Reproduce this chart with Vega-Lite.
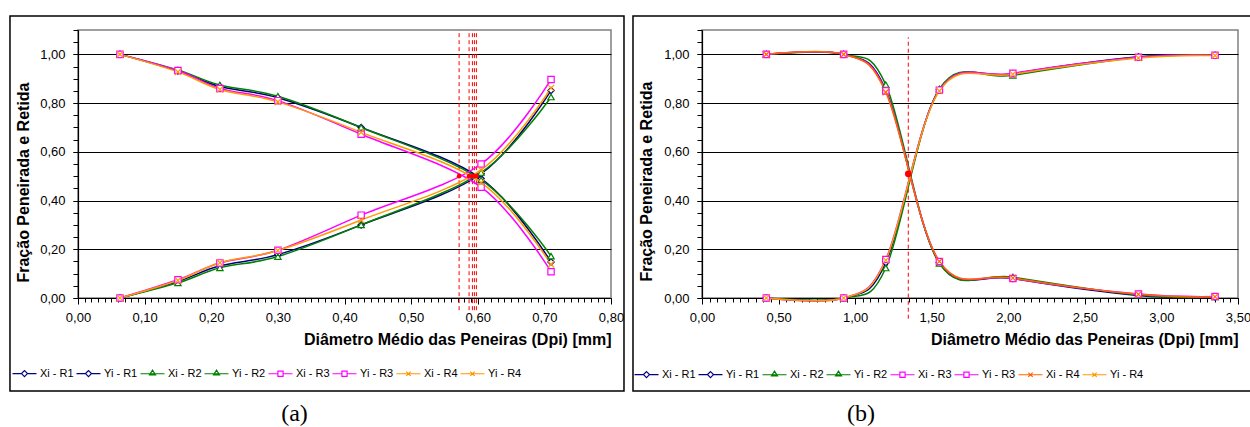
{
  "$schema": "https://vega.github.io/schema/vega-lite/v6.json",
  "background": "white",
  "padding": {"left": 8, "top": 14, "right": 0, "bottom": 0},
  "spacing": 5,
  "resolve": {"scale": {"color": "independent", "shape": "independent"}, "legend": {"color": "independent", "shape": "independent"}},
  "config": {
    "font": "Liberation Sans",
    "view": {"stroke": "#808080", "strokeWidth": 1.5},
    "axis": {"labelFont": "Liberation Sans", "labelFontSize": 13, "labelColor": "#000", "titleFont": "Liberation Sans", "titleFontSize": 16, "titleFontWeight": "bold", "titleColor": "#000", "domainColor": "#000", "tickColor": "#000", "gridColor": "#000", "labelFlush": false, "labelOverlap": false},
    "legend": {"labelFont": "Liberation Sans", "labelFontSize": 11, "labelColor": "#000"},
    "title": {"font": "Liberation Serif", "fontSize": 24, "fontWeight": "normal", "color": "#000"}
  },
  "datasets": {
    "a": [
      {"d": 0.063, "f": 1.0, "s": "Xi - R1", "r": "R1"}, {"d": 0.15, "f": 0.932, "s": "Xi - R1", "r": "R1"}, {"d": 0.213, "f": 0.868, "s": "Xi - R1", "r": "R1"}, {"d": 0.3, "f": 0.822, "s": "Xi - R1", "r": "R1"}, {"d": 0.425, "f": 0.7, "s": "Xi - R1", "r": "R1"}, {"d": 0.605, "f": 0.49, "s": "Xi - R1", "r": "R1"}, {"d": 0.71, "f": 0.148, "s": "Xi - R1", "r": "R1"},
      {"d": 0.063, "f": 0.0, "s": "Yi - R1", "r": "R1"}, {"d": 0.15, "f": 0.068, "s": "Yi - R1", "r": "R1"}, {"d": 0.213, "f": 0.132, "s": "Yi - R1", "r": "R1"}, {"d": 0.3, "f": 0.178, "s": "Yi - R1", "r": "R1"}, {"d": 0.425, "f": 0.3, "s": "Yi - R1", "r": "R1"}, {"d": 0.605, "f": 0.51, "s": "Yi - R1", "r": "R1"}, {"d": 0.71, "f": 0.852, "s": "Yi - R1", "r": "R1"},
      {"d": 0.063, "f": 1.0, "s": "Xi - R2", "r": "R2"}, {"d": 0.15, "f": 0.936, "s": "Xi - R2", "r": "R2"}, {"d": 0.213, "f": 0.874, "s": "Xi - R2", "r": "R2"}, {"d": 0.3, "f": 0.828, "s": "Xi - R2", "r": "R2"}, {"d": 0.425, "f": 0.7, "s": "Xi - R2", "r": "R2"}, {"d": 0.605, "f": 0.485, "s": "Xi - R2", "r": "R2"}, {"d": 0.71, "f": 0.172, "s": "Xi - R2", "r": "R2"},
      {"d": 0.063, "f": 0.0, "s": "Yi - R2", "r": "R2"}, {"d": 0.15, "f": 0.062, "s": "Yi - R2", "r": "R2"}, {"d": 0.213, "f": 0.124, "s": "Yi - R2", "r": "R2"}, {"d": 0.3, "f": 0.17, "s": "Yi - R2", "r": "R2"}, {"d": 0.425, "f": 0.3, "s": "Yi - R2", "r": "R2"}, {"d": 0.605, "f": 0.515, "s": "Yi - R2", "r": "R2"}, {"d": 0.71, "f": 0.825, "s": "Yi - R2", "r": "R2"},
      {"d": 0.063, "f": 1.0, "s": "Xi - R3", "r": "R3"}, {"d": 0.15, "f": 0.934, "s": "Xi - R3", "r": "R3"}, {"d": 0.213, "f": 0.86, "s": "Xi - R3", "r": "R3"}, {"d": 0.3, "f": 0.81, "s": "Xi - R3", "r": "R3"}, {"d": 0.425, "f": 0.672, "s": "Xi - R3", "r": "R3"}, {"d": 0.605, "f": 0.455, "s": "Xi - R3", "r": "R3"}, {"d": 0.71, "f": 0.108, "s": "Xi - R3", "r": "R3"},
      {"d": 0.063, "f": 0.0, "s": "Yi - R3", "r": "R3"}, {"d": 0.15, "f": 0.075, "s": "Yi - R3", "r": "R3"}, {"d": 0.213, "f": 0.144, "s": "Yi - R3", "r": "R3"}, {"d": 0.3, "f": 0.196, "s": "Yi - R3", "r": "R3"}, {"d": 0.425, "f": 0.34, "s": "Yi - R3", "r": "R3"}, {"d": 0.605, "f": 0.55, "s": "Yi - R3", "r": "R3"}, {"d": 0.71, "f": 0.897, "s": "Yi - R3", "r": "R3"},
      {"d": 0.063, "f": 1.0, "s": "Xi - R4", "r": "R4"}, {"d": 0.15, "f": 0.928, "s": "Xi - R4", "r": "R4"}, {"d": 0.213, "f": 0.856, "s": "Xi - R4", "r": "R4"}, {"d": 0.3, "f": 0.805, "s": "Xi - R4", "r": "R4"}, {"d": 0.425, "f": 0.68, "s": "Xi - R4", "r": "R4"}, {"d": 0.605, "f": 0.474, "s": "Xi - R4", "r": "R4"}, {"d": 0.71, "f": 0.138, "s": "Xi - R4", "r": "R4"},
      {"d": 0.063, "f": 0.0, "s": "Yi - R4", "r": "R4"}, {"d": 0.15, "f": 0.072, "s": "Yi - R4", "r": "R4"}, {"d": 0.213, "f": 0.145, "s": "Yi - R4", "r": "R4"}, {"d": 0.3, "f": 0.195, "s": "Yi - R4", "r": "R4"}, {"d": 0.425, "f": 0.32, "s": "Yi - R4", "r": "R4"}, {"d": 0.605, "f": 0.526, "s": "Yi - R4", "r": "R4"}, {"d": 0.71, "f": 0.862, "s": "Yi - R4", "r": "R4"}
    ],
    "b": [
      {"d": 0.42, "f": 1.0, "s": "Xi - R1", "r": "R1"}, {"d": 0.925, "f": 1.0, "s": "Xi - R1", "r": "R1"}, {"d": 1.2, "f": 0.855, "s": "Xi - R1", "r": "R1"}, {"d": 1.55, "f": 0.145, "s": "Xi - R1", "r": "R1"}, {"d": 2.03, "f": 0.08, "s": "Xi - R1", "r": "R1"}, {"d": 2.85, "f": 0.01, "s": "Xi - R1", "r": "R1"}, {"d": 3.35, "f": 0.004, "s": "Xi - R1", "r": "R1"},
      {"d": 0.42, "f": 0.0, "s": "Yi - R1", "r": "R1"}, {"d": 0.925, "f": 0.0, "s": "Yi - R1", "r": "R1"}, {"d": 1.2, "f": 0.145, "s": "Yi - R1", "r": "R1"}, {"d": 1.55, "f": 0.855, "s": "Yi - R1", "r": "R1"}, {"d": 2.03, "f": 0.92, "s": "Yi - R1", "r": "R1"}, {"d": 2.85, "f": 0.99, "s": "Yi - R1", "r": "R1"}, {"d": 3.35, "f": 0.996, "s": "Yi - R1", "r": "R1"},
      {"d": 0.42, "f": 1.0, "s": "Xi - R2", "r": "R2"}, {"d": 0.925, "f": 1.0, "s": "Xi - R2", "r": "R2"}, {"d": 1.2, "f": 0.876, "s": "Xi - R2", "r": "R2"}, {"d": 1.55, "f": 0.142, "s": "Xi - R2", "r": "R2"}, {"d": 2.03, "f": 0.086, "s": "Xi - R2", "r": "R2"}, {"d": 2.85, "f": 0.012, "s": "Xi - R2", "r": "R2"}, {"d": 3.35, "f": 0.004, "s": "Xi - R2", "r": "R2"},
      {"d": 0.42, "f": 0.0, "s": "Yi - R2", "r": "R2"}, {"d": 0.925, "f": 0.0, "s": "Yi - R2", "r": "R2"}, {"d": 1.2, "f": 0.123, "s": "Yi - R2", "r": "R2"}, {"d": 1.55, "f": 0.858, "s": "Yi - R2", "r": "R2"}, {"d": 2.03, "f": 0.914, "s": "Yi - R2", "r": "R2"}, {"d": 2.85, "f": 0.988, "s": "Yi - R2", "r": "R2"}, {"d": 3.35, "f": 0.996, "s": "Yi - R2", "r": "R2"},
      {"d": 0.42, "f": 1.0, "s": "Xi - R3", "r": "R3"}, {"d": 0.925, "f": 1.0, "s": "Xi - R3", "r": "R3"}, {"d": 1.2, "f": 0.85, "s": "Xi - R3", "r": "R3"}, {"d": 1.55, "f": 0.15, "s": "Xi - R3", "r": "R3"}, {"d": 2.03, "f": 0.08, "s": "Xi - R3", "r": "R3"}, {"d": 2.85, "f": 0.016, "s": "Xi - R3", "r": "R3"}, {"d": 3.35, "f": 0.006, "s": "Xi - R3", "r": "R3"},
      {"d": 0.42, "f": 0.0, "s": "Yi - R3", "r": "R3"}, {"d": 0.925, "f": 0.0, "s": "Yi - R3", "r": "R3"}, {"d": 1.2, "f": 0.158, "s": "Yi - R3", "r": "R3"}, {"d": 1.55, "f": 0.853, "s": "Yi - R3", "r": "R3"}, {"d": 2.03, "f": 0.922, "s": "Yi - R3", "r": "R3"}, {"d": 2.85, "f": 0.988, "s": "Yi - R3", "r": "R3"}, {"d": 3.35, "f": 0.996, "s": "Yi - R3", "r": "R3"},
      {"d": 0.42, "f": 1.0, "s": "Xi - R4", "r": "R4"}, {"d": 0.925, "f": 1.0, "s": "Xi - R4", "r": "R4"}, {"d": 1.2, "f": 0.845, "s": "Xi - R4", "r": "R4"}, {"d": 1.55, "f": 0.15, "s": "Xi - R4", "r": "R4"}, {"d": 2.03, "f": 0.082, "s": "Xi - R4", "r": "R4"}, {"d": 2.85, "f": 0.015, "s": "Xi - R4", "r": "R4"}, {"d": 3.35, "f": 0.005, "s": "Xi - R4", "r": "R4"},
      {"d": 0.42, "f": 0.0, "s": "Yi - R4", "r": "R4"}, {"d": 0.925, "f": 0.0, "s": "Yi - R4", "r": "R4"}, {"d": 1.2, "f": 0.155, "s": "Yi - R4", "r": "R4"}, {"d": 1.55, "f": 0.85, "s": "Yi - R4", "r": "R4"}, {"d": 2.03, "f": 0.918, "s": "Yi - R4", "r": "R4"}, {"d": 2.85, "f": 0.985, "s": "Yi - R4", "r": "R4"}, {"d": 3.35, "f": 0.995, "s": "Yi - R4", "r": "R4"}
    ],
    "ra": [{"d": 0.572, "f": 0.5}, {"d": 0.587, "f": 0.5}, {"d": 0.592, "f": 0.5}, {"d": 0.595, "f": 0.5}, {"d": 0.598, "f": 0.5}],
    "rb": [{"d": 1.347, "f": 0.51}]
  },
  "hconcat": [
    {
      "width": 533,
      "height": 268,
      "title": {"text": "(a)", "orient": "bottom", "anchor": "middle", "offset": 10, "dx": -50},
      "resolve": {"axis": {"x": "independent", "y": "independent"}},
      "layer": [
        {
          "data": {"values": [{}]},
          "mark": {"type": "rect", "fill": "transparent", "stroke": "#000", "strokeWidth": 1.5},
          "encoding": {
            "x": {"datum": -0.1021, "type": "quantitative", "scale": {"domain": [0, 0.8], "nice": false, "zero": false}, "axis": null},
            "x2": {"datum": 0.8195},
            "y": {"datum": -0.3817, "type": "quantitative", "scale": {"domain": [0, 1.1], "nice": false, "zero": false}, "axis": null},
            "y2": {"datum": 1.1575}
          }
        },
        {
          "data": {"values": [{}]},
          "mark": {"type": "text", "text": "Fração Peneirada e Retida", "angle": 270, "font": "Liberation Sans", "fontSize": 16, "fontWeight": "bold", "color": "#000", "align": "center", "baseline": "middle"},
          "encoding": {
            "x": {"datum": -0.081, "type": "quantitative", "scale": {"domain": [0, 0.8], "nice": false, "zero": false}, "axis": null},
            "y": {"datum": 0.474, "type": "quantitative", "scale": {"domain": [0, 1.1], "nice": false, "zero": false}, "axis": null}
          }
        },
        {
          "data": {"name": "ra"},
          "mark": {"type": "rule", "color": "#FF0000", "strokeDash": [4, 3], "strokeWidth": 1},
          "encoding": {
            "x": {"field": "d", "type": "quantitative", "scale": {"domain": [0, 0.8], "nice": false, "zero": false}, "axis": null},
            "y": {"datum": -0.05, "type": "quantitative", "scale": {"domain": [0, 1.1], "nice": false, "zero": false}, "axis": null},
            "y2": {"datum": 1.1}
          }
        },
        {
          "data": {"name": "a"},
          "mark": {"type": "line", "interpolate": "cardinal", "strokeWidth": 1.5},
          "encoding": {
            "x": {"field": "d", "type": "quantitative", "scale": {"domain": [0, 0.8], "nice": false, "zero": false},
              "axis": {"orient": "bottom", "title": "Diâmetro Médio das Peneiras (Dpi) [mm]", "values": [0, 0.1, 0.2, 0.3, 0.4, 0.5, 0.6, 0.7, 0.8], "labelExpr": "replace(format(datum.value, '.2f'), '.', ',')", "grid": false, "tickSize": 6, "labelPadding": 7, "titleAnchor": "end", "titlePadding": 7, "domainWidth": 1.2}},
            "y": {"field": "f", "type": "quantitative", "scale": {"domain": [0, 1.1], "nice": false, "zero": false},
              "axis": {"orient": "left", "title": null, "values": [0, 0.2, 0.4, 0.6, 0.8, 1.0], "labelExpr": "replace(format(datum.value, '.2f'), '.', ',')", "grid": true, "gridColor": "#000", "gridWidth": 1, "tickSize": 5, "labelPadding": 8, "domainWidth": 1.2}},
            "color": {"field": "s", "type": "nominal",
              "scale": {"domain": ["Xi - R1", "Yi - R1", "Xi - R2", "Yi - R2", "Xi - R3", "Yi - R3", "Xi - R4", "Yi - R4"], "range": ["#000080", "#000080", "#008000", "#008000", "#FF00FF", "#FF00FF", "#FF9900", "#FF9900"]},
              "legend": {"orient": "none", "legendX": -59, "legendY": 338, "direction": "horizontal", "columns": 8, "title": null, "symbolSize": 64, "labelOffset": 10, "columnPadding": 0,
                "encode": {"symbols": {"update": {
                  "shape": {"signal": "indexof(datum.value,'R1')>=0 ? 'M-3,0L-0.75,0M0.75,0L3,0M0,-0.75L0.75,0L0,0.75L-0.75,0Z' : indexof(datum.value,'R2')>=0 ? 'M-3,0L3,0M0,-0.9L0.75,0.3L-0.75,0.3Z' : indexof(datum.value,'R3')>=0 ? 'M-3,0L-0.65,0M0.65,0L3,0M-0.65,-0.65L0.65,-0.65L0.65,0.65L-0.65,0.65Z' : 'M-3,0L3,0M-0.55,-0.55L0.55,0.55M-0.55,0.55L0.55,-0.55'"},
                  "stroke": {"signal": "indexof(datum.value,'R1')>=0 ? '#000080' : indexof(datum.value,'R2')>=0 ? '#008000' : indexof(datum.value,'R3')>=0 ? '#FF00FF' : '#FF9900'"},
                  "fill": {"value": "white"},
                  "strokeWidth": {"value": 1.2},
                  "opacity": {"value": 1}
                }}}}}
          }
        },
        {
          "data": {"name": "a"},
          "mark": {"type": "point", "filled": false, "fill": "white", "size": 40, "strokeWidth": 1.2, "opacity": 1},
          "encoding": {
            "x": {"field": "d", "type": "quantitative", "scale": {"domain": [0, 0.8], "nice": false, "zero": false},
              "axis": {"orient": "bottom", "title": null, "tickCount": 80, "labels": false, "grid": false, "domain": false, "tickSize": 4}},
            "y": {"field": "f", "type": "quantitative", "scale": {"domain": [0, 1.1], "nice": false, "zero": false},
              "axis": {"orient": "left", "title": null, "tickCount": 22, "labels": false, "grid": false, "domain": false, "tickSize": 5}},
            "color": {"field": "s", "type": "nominal"},
            "shape": {"field": "r", "type": "nominal", "scale": {"domain": ["R1", "R2", "R3", "R4"], "range": ["diamond", "triangle-up", "square", "M-1,-1L1,1M-1,1L1,-1"]}, "legend": null}
          }
        },
        {
          "data": {"name": "ra"},
          "mark": {"type": "point", "filled": true, "color": "#FF0000", "size": 22, "opacity": 1},
          "encoding": {
            "x": {"field": "d", "type": "quantitative", "scale": {"domain": [0, 0.8], "nice": false, "zero": false}, "axis": null},
            "y": {"field": "f", "type": "quantitative", "scale": {"domain": [0, 1.1], "nice": false, "zero": false}, "axis": null}
          }
        }
      ]
    },
    {
      "width": 536,
      "height": 268,
      "title": {"text": "(b)", "orient": "bottom", "anchor": "middle", "offset": 10, "dx": -109},
      "resolve": {"axis": {"x": "independent", "y": "independent"}},
      "layer": [
        {
          "data": {"values": [{}]},
          "mark": {"type": "rect", "fill": "transparent", "stroke": "#000", "strokeWidth": 1.5},
          "encoding": {
            "x": {"datum": -0.4506, "type": "quantitative", "scale": {"domain": [0, 3.5], "nice": false, "zero": false}, "axis": null},
            "x2": {"datum": 3.585},
            "y": {"datum": -0.3817, "type": "quantitative", "scale": {"domain": [0, 1.1], "nice": false, "zero": false}, "axis": null},
            "y2": {"datum": 1.1575}
          }
        },
        {
          "data": {"values": [{}]},
          "mark": {"type": "text", "text": "Fração Peneirada e Retida", "angle": 270, "font": "Liberation Sans", "fontSize": 16, "fontWeight": "bold", "color": "#000", "align": "center", "baseline": "middle"},
          "encoding": {
            "x": {"datum": -0.362, "type": "quantitative", "scale": {"domain": [0, 3.5], "nice": false, "zero": false}, "axis": null},
            "y": {"datum": 0.478, "type": "quantitative", "scale": {"domain": [0, 1.1], "nice": false, "zero": false}, "axis": null}
          }
        },
        {
          "data": {"name": "rb"},
          "mark": {"type": "rule", "color": "#FF0000", "strokeDash": [4, 3], "strokeWidth": 1},
          "encoding": {
            "x": {"field": "d", "type": "quantitative", "scale": {"domain": [0, 3.5], "nice": false, "zero": false}, "axis": null},
            "y": {"datum": -0.085, "type": "quantitative", "scale": {"domain": [0, 1.1], "nice": false, "zero": false}, "axis": null},
            "y2": {"datum": 1.07}
          }
        },
        {
          "data": {"name": "b"},
          "mark": {"type": "line", "interpolate": "cardinal", "strokeWidth": 1.5},
          "encoding": {
            "x": {"field": "d", "type": "quantitative", "scale": {"domain": [0, 3.5], "nice": false, "zero": false},
              "axis": {"orient": "bottom", "title": "Diâmetro Médio das Peneiras (Dpi) [mm]", "values": [0, 0.5, 1.0, 1.5, 2.0, 2.5, 3.0, 3.5], "labelExpr": "replace(format(datum.value, '.2f'), '.', ',')", "grid": false, "tickSize": 6, "labelPadding": 7, "titleAnchor": "end", "titlePadding": 7, "domainWidth": 1.2}},
            "y": {"field": "f", "type": "quantitative", "scale": {"domain": [0, 1.1], "nice": false, "zero": false},
              "axis": {"orient": "left", "title": null, "values": [0, 0.2, 0.4, 0.6, 0.8, 1.0], "labelExpr": "replace(format(datum.value, '.2f'), '.', ',')", "grid": true, "gridColor": "#000", "gridWidth": 1, "tickSize": 5, "labelPadding": 8, "domainWidth": 1.2}},
            "color": {"field": "s", "type": "nominal",
              "scale": {"domain": ["Xi - R1", "Yi - R1", "Xi - R2", "Yi - R2", "Xi - R3", "Yi - R3", "Xi - R4", "Yi - R4"], "range": ["#000080", "#000080", "#008000", "#008000", "#FF00FF", "#FF00FF", "#FF6600", "#FF9900"]},
              "legend": {"orient": "none", "legendX": -61, "legendY": 339, "direction": "horizontal", "columns": 8, "title": null, "symbolSize": 64, "labelOffset": 10, "columnPadding": 0,
                "encode": {"symbols": {"update": {
                  "shape": {"signal": "indexof(datum.value,'R1')>=0 ? 'M-3,0L-0.75,0M0.75,0L3,0M0,-0.75L0.75,0L0,0.75L-0.75,0Z' : indexof(datum.value,'R2')>=0 ? 'M-3,0L3,0M0,-0.9L0.75,0.3L-0.75,0.3Z' : indexof(datum.value,'R3')>=0 ? 'M-3,0L-0.65,0M0.65,0L3,0M-0.65,-0.65L0.65,-0.65L0.65,0.65L-0.65,0.65Z' : 'M-3,0L3,0M-0.55,-0.55L0.55,0.55M-0.55,0.55L0.55,-0.55'"},
                  "stroke": {"signal": "indexof(datum.value,'R1')>=0 ? '#000080' : indexof(datum.value,'R2')>=0 ? '#008000' : indexof(datum.value,'R3')>=0 ? '#FF00FF' : datum.value === 'Xi - R4' ? '#FF6600' : '#FF9900'"},
                  "fill": {"value": "white"},
                  "strokeWidth": {"value": 1.2},
                  "opacity": {"value": 1}
                }}}}}
          }
        },
        {
          "data": {"name": "b"},
          "mark": {"type": "point", "filled": false, "fill": "white", "size": 40, "strokeWidth": 1.2, "opacity": 1},
          "encoding": {
            "x": {"field": "d", "type": "quantitative", "scale": {"domain": [0, 3.5], "nice": false, "zero": false},
              "axis": {"orient": "bottom", "title": null, "tickCount": 70, "labels": false, "grid": false, "domain": false, "tickSize": 4}},
            "y": {"field": "f", "type": "quantitative", "scale": {"domain": [0, 1.1], "nice": false, "zero": false},
              "axis": {"orient": "left", "title": null, "tickCount": 22, "labels": false, "grid": false, "domain": false, "tickSize": 5}},
            "color": {"field": "s", "type": "nominal"},
            "shape": {"field": "r", "type": "nominal", "scale": {"domain": ["R1", "R2", "R3", "R4"], "range": ["diamond", "triangle-up", "square", "M-1,-1L1,1M-1,1L1,-1"]}, "legend": null}
          }
        },
        {
          "data": {"name": "rb"},
          "mark": {"type": "point", "filled": true, "color": "#FF0000", "size": 45, "opacity": 1},
          "encoding": {
            "x": {"field": "d", "type": "quantitative", "scale": {"domain": [0, 3.5], "nice": false, "zero": false}, "axis": null},
            "y": {"field": "f", "type": "quantitative", "scale": {"domain": [0, 1.1], "nice": false, "zero": false}, "axis": null}
          }
        }
      ]
    }
  ]
}
